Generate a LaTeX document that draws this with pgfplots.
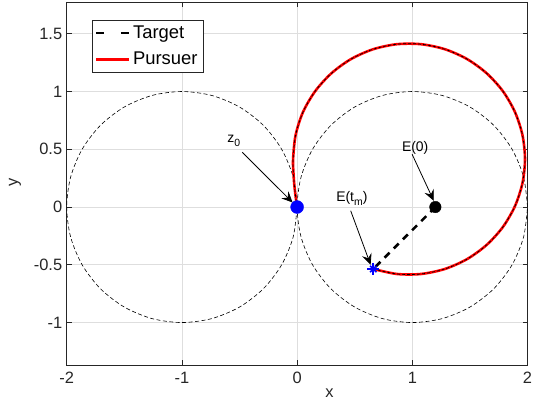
\documentclass[border=0pt]{standalone}
\usepackage{pgfplots}
\pgfplotsset{compat=1.18}
\usepackage{fontspec}
\setmainfont{Liberation Sans}
\usetikzlibrary{arrows.meta}

\definecolor{axgray}{rgb}{0.15,0.15,0.15}
\definecolor{gridgray}{rgb}{0.87,0.87,0.87}
\newcommand\lowsub[1]{\raisebox{-0.55ex}{\fontsize{10.5}{11}\selectfont #1}}

\begin{document}
\begin{tikzpicture}
\begin{axis}[
  name=ax,
  scale only axis,
  width=463pt, height=365pt,
  xmin=-2, xmax=2, ymin=-1.37, ymax=1.775,
  xtick={-2,-1,0,1,2},
  ytick={-1,-0.5,0,0.5,1,1.5},
  grid=major,
  major grid style={gridgray, line width=0.6pt},
  axis line style={axgray, line width=0.6pt},
  tick style={axgray, line width=0.6pt},
  major tick length=5pt,
  ticklabel style={font=\fontsize{16.5}{18}\selectfont, text=axgray},
  /pgf/number format/assume math mode=true,
  xticklabel style={yshift=-3pt},
  yticklabel style={xshift=-1pt},
  xlabel={x}, ylabel={y},
  label style={font=\fontsize{16.5}{18}\selectfont, text=axgray},
  xlabel style={at={(axis description cs:0.57,0)}, anchor=center, yshift=-28pt},
  ylabel style={at={(axis description cs:-0.1123,0.504)}, anchor=center},
  legend style={at={(axis description cs:0,1)}, anchor=north west,
    xshift=25pt, yshift=-18pt, draw=axgray, line width=0.6pt,
    font=\fontsize{18.5}{20}\selectfont, inner xsep=3pt, inner ysep=4pt,
    row sep=8pt, cells={anchor=west},
    nodes={inner xsep=3pt, inner ysep=2pt}},
  legend image code/.code={\draw[#1] (0pt,0pt) -- (33pt,0pt);},
]
% legend entries
\addlegendimage{black, line width=2.4pt, dash pattern=on 8pt off 17pt}
\addlegendentry{Target}
\addlegendimage{red, line width=2.4pt}
\addlegendentry{Pursuer}

% reference unit circles
\addplot[black, line width=0.6pt, dash pattern=on 4pt off 2.5pt, smooth, forget plot] coordinates {
(0,0) (-0.0341,0.2588) (-0.134,0.5) (-0.2929,0.7071) (-0.5,0.866) (-0.7412,0.9659)
(-1,1) (-1.2588,0.9659) (-1.5,0.866) (-1.7071,0.7071) (-1.866,0.5) (-1.9659,0.2588)
(-2,0) (-1.9659,-0.2588) (-1.866,-0.5) (-1.7071,-0.7071) (-1.5,-0.866) (-1.2588,-0.9659)
(-1,-1) (-0.7412,-0.9659) (-0.5,-0.866) (-0.2929,-0.7071) (-0.134,-0.5) (-0.0341,-0.2588) (0,0)};
\addplot[black, line width=0.6pt, dash pattern=on 4pt off 2.5pt, smooth, forget plot] coordinates {
(2,0) (1.9659,0.2588) (1.866,0.5) (1.7071,0.7071) (1.5,0.866) (1.2588,0.9659)
(1,1) (0.7412,0.9659) (0.5,0.866) (0.2929,0.7071) (0.134,0.5) (0.0341,0.2588)
(0,0) (0.0341,-0.2588) (0.134,-0.5) (0.2929,-0.7071) (0.5,-0.866) (0.7412,-0.9659)
(1,-1) (1.2588,-0.9659) (1.5,-0.866) (1.7071,-0.7071) (1.866,-0.5) (1.9659,-0.2588) (2,0)};

% pursuer start z0
\addplot[only marks, mark=*, mark size=6.5pt, blue, fill=blue, forget plot] coordinates {(0,0)};

% pursuer trajectory
\pgfplotstableread{
x y
0 0
-0.014 0.1
-0.025 0.2
-0.032 0.3
-0.035 0.415
-0.013 0.623
0.051 0.822
0.157 1.003
0.298 1.158
0.468 1.281
0.66 1.366
0.866 1.4095
1.076 1.4095
1.283 1.366
1.475 1.281
1.645 1.158
1.786 1.003
1.891 0.822
1.956 0.623
1.978 0.415
1.956 0.207
1.891 0.008
1.786 -0.173
1.645 -0.328
1.475 -0.451
1.283 -0.536
1.076 -0.5795
0.866 -0.5795
0.661 -0.536
}\pursuer
\addplot[red, line width=2.6pt, smooth, forget plot] table {\pursuer};
\addplot[black, line width=0.7pt, dash pattern=on 3pt off 2pt, smooth, forget plot] table {\pursuer};

% target path E(0) -> E(t_m)
\addplot[black, line width=2.6pt, dash pattern=on 7pt off 6pt, forget plot] coordinates {(1.2,0) (0.661,-0.536)};
\addplot[only marks, mark=*, mark size=5.8pt, black, forget plot] coordinates {(1.2,0)};
\addplot[only marks, mark=+, mark size=6pt, blue, line width=1.6pt, forget plot] coordinates {(0.661,-0.536)};
\addplot[only marks, mark=x, mark size=4.5pt, blue, line width=1.6pt, forget plot] coordinates {(0.661,-0.536)};

% annotations
\begin{scope}[font=\fontsize{14}{16}\selectfont]
\node[anchor=base west, inner sep=0pt] at (axis cs:-0.606,0.56) {z\lowsub{0}};
\node[anchor=base west, inner sep=0pt] at (axis cs:0.338,0.052) {E(t\lowsub{m})};
\node[anchor=base west, inner sep=0pt] at (axis cs:0.909,0.483) {E(0)};
\end{scope}
\begin{scope}[line width=0.8pt, -{Stealth[length=11pt, width=10pt, inset=4pt]}]
\draw (axis cs:-0.476,0.474) -- (axis cs:-0.039,0.039);
\draw (axis cs:0.465,-0.032) -- (axis cs:0.638,-0.5);
\draw (axis cs:0.998,0.457) -- (axis cs:1.186,0.054);
\end{scope}
\end{axis}
\pgfresetboundingbox
\path ([shift={(-67pt,-37pt)}]ax.south west) rectangle ([shift={(5.5pt,2pt)}]ax.north east);
\end{tikzpicture}
\end{document}
